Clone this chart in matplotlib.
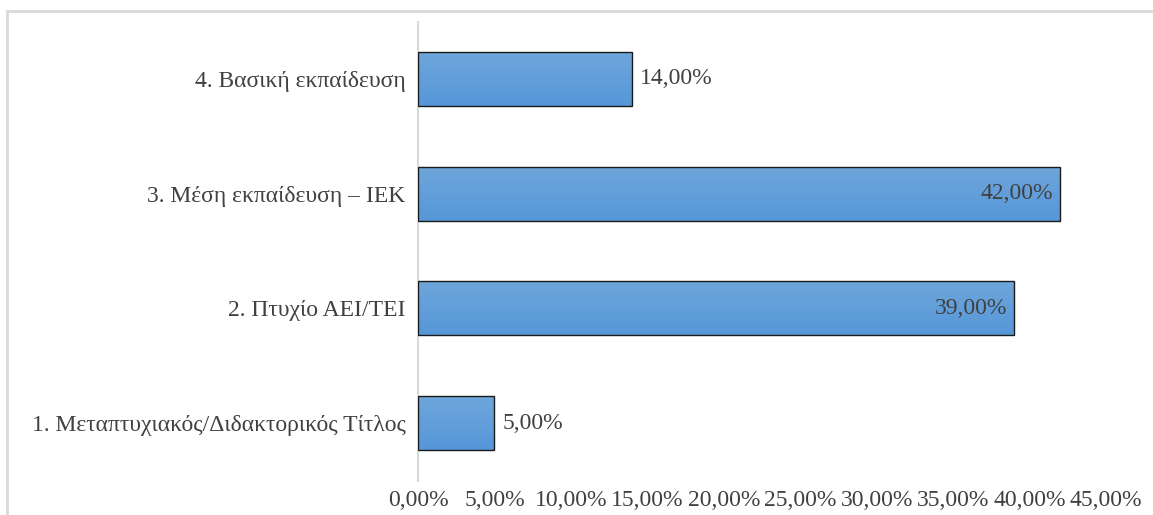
import numpy as np
import matplotlib.pyplot as plt
from matplotlib.patches import Rectangle
from matplotlib.colors import LinearSegmentedColormap

plt.rcParams['font.family'] = ['Liberation Serif', 'DejaVu Serif']

categories = ['1. Μεταπτυχιακός/Διδακτορικός Τίτλος', '2. Πτυχίο ΑΕΙ/ΤΕΙ',
              '3. Μέση εκπαίδευση – ΙΕΚ', '4. Βασική εκπαίδευση']
values = [5.0, 39.0, 42.0, 14.0]
ticks = [0, 5, 10, 15, 20, 25, 30, 35, 40, 45]
tick_labels = ['0,00%', '5,00%', '10,00%', '15,00%', '20,00%', '25,00%',
               '30,00%', '35,00%', '40,00%', '45,00%']

W, H = 1153, 515
FS = 17
TXT = '#404040'
fig = plt.figure(figsize=(W / 100, H / 100), dpi=100)
ax = fig.add_axes([418 / W, 1 - 480.5 / H, (1106 - 418) / W, (480.5 - 21.5) / H])

# chart border (cut off at right and bottom in the original)
fig.patches.append(Rectangle((7 / W, -0.5), 3, 1 - 11 / H + 0.5,
                             transform=fig.transFigure, fill=False,
                             edgecolor='#d9d9d9', linewidth=2))

ypos = np.arange(len(categories))
bars = ax.barh(ypos, values, height=0.47, color='none',
               edgecolor='#1a1a1a', linewidth=1.0, zorder=3)

cmap = LinearSegmentedColormap.from_list('g', ['#5697d9', '#6ea6db'])
grad = np.linspace(0, 1, 256).reshape(-1, 1)
for b in bars:
    x0, y0 = b.get_x(), b.get_y()
    im = ax.imshow(grad, cmap=cmap, aspect='auto', origin='lower',
                   extent=[x0, x0 + b.get_width(), y0, y0 + b.get_height()],
                   zorder=2)
    im.set_clip_path(b)

for y, v in zip(ypos, values):
    txt = f'{v:.2f}%'.replace('.', ',')
    if v > 30:
        ax.text(v - 0.45, y, txt, ha='right', va='center', fontsize=FS, color=TXT, zorder=4)
    else:
        ax.text(v + 0.5, y, txt, ha='left', va='center', fontsize=FS, color=TXT, zorder=4)

ax.set_xlim(0, 45)
ax.set_ylim(-0.5, len(categories) - 0.5)
ax.set_xticks(ticks)
ax.set_xticklabels(tick_labels, fontsize=FS, color=TXT)
ax.set_yticks(ypos)
ax.set_yticklabels(categories, fontsize=FS, color=TXT)
ax.tick_params(axis='both', length=0)
ax.tick_params(axis='x', pad=7)
ax.tick_params(axis='y', pad=9)
for s in ['top', 'right', 'bottom']:
    ax.spines[s].set_visible(False)
ax.spines['left'].set_color('#d9d9d9')
ax.spines['left'].set_linewidth(1.5)

fig.savefig('out.png', dpi=100)
